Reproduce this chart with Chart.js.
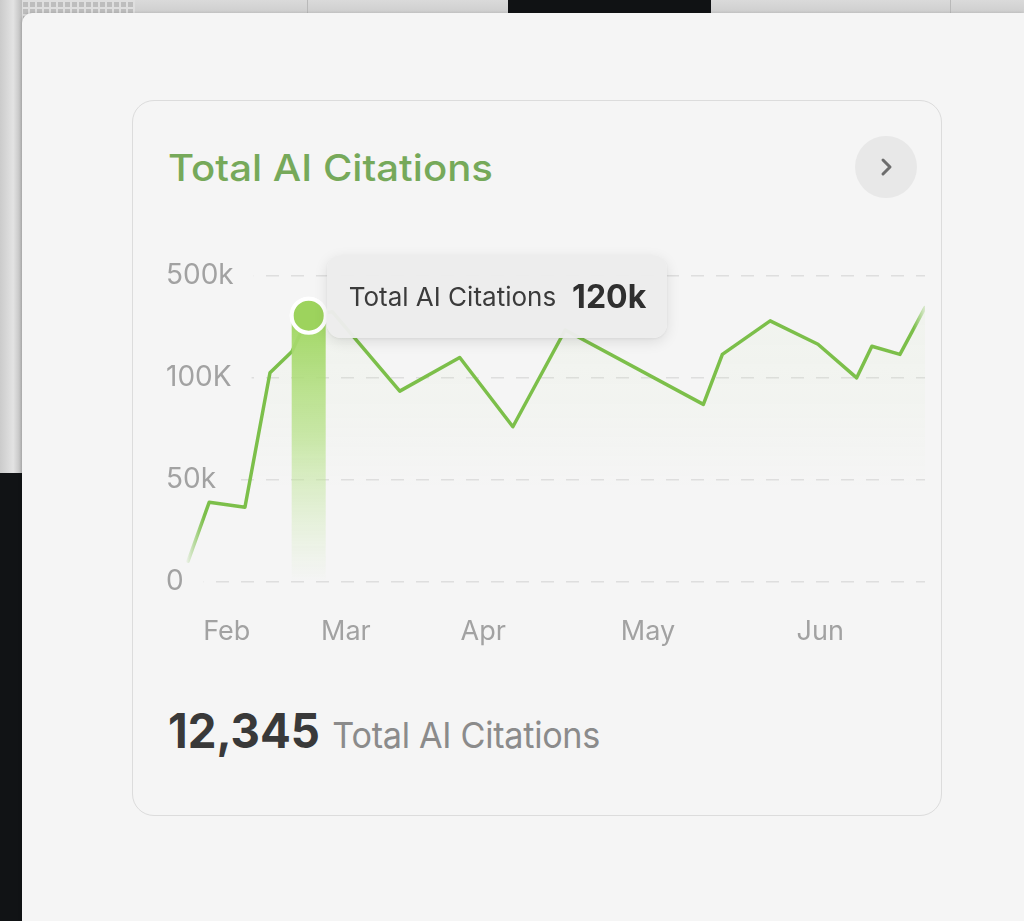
<!DOCTYPE html>
<html>
<head>
<meta charset="utf-8">
<script src="https://cdn.jsdelivr.net/npm/chart.js@4.4.1/dist/chart.umd.min.js"></script>
<style>
  html, body { margin: 0; padding: 0; }
  body {
    width: 1024px; height: 921px; overflow: hidden; position: relative;
    background: #111315; font-family: Inter, "Noto Sans", sans-serif;
  }
  .top-strip { position: absolute; left: 0; top: 0; width: 1024px; height: 14px; background: linear-gradient(#dadada, #cdcdcd); }
  .top-dark { position: absolute; left: 508px; top: 0; width: 203px; height: 13px; background: #101214; }
  .top-line { position: absolute; top: 0; width: 1px; height: 13px; background: #b9b9b9; }
  .left-strip { position: absolute; left: 0; top: 0; width: 22px; height: 473px; background: linear-gradient(90deg, #cbcbcb, #e3e3e3 60%, #bcbcbc); }
  .dots {
    position: absolute; left: 0; top: 0; width: 135px; height: 62px;
    background-color: #bdbdbd;
    background-image: linear-gradient(90deg, #dedede 2px, transparent 2px), linear-gradient(#dedede 2px, transparent 2px);
    background-size: 7px 7px;
  }
  .panel {
    position: absolute; left: 22px; top: 13px; right: 0; bottom: 0;
    background: #f5f5f5; border-top-left-radius: 10px;
    box-shadow: -1px 0 3px rgba(0,0,0,0.15);
  }
  .card {
    position: absolute; left: 132px; top: 100px; width: 808px; height: 714px;
    border: 1.5px solid #dcdcdc; border-radius: 22px; background: #f5f5f5;
  }
  .title {
    position: absolute; left: 168px; top: 149px; font-size: 37px; font-weight: 500; line-height: 1;
    color: #76a95a; white-space: nowrap; transform-origin: left top; transform: scaleX(1.085);
  }
  .btn {
    position: absolute; left: 855px; top: 136px; width: 62px; height: 62px;
    border-radius: 50%; background: #e8e8e8;
  }
  .btn svg { position: absolute; left: 0; top: 0; }
  .chart-wrap { position: absolute; left: 146px; top: 250px; width: 800px; height: 432px; }
  .tip {
    position: absolute; width: 340px; height: 83px; box-sizing: border-box;
    padding-left: 22px; display: flex; align-items: center; gap: 16px;
    background: rgba(236,236,236,0.97); border-radius: 14px;
    box-shadow: 0 4px 14px rgba(0,0,0,0.10), 0 1px 3px rgba(0,0,0,0.06);
    white-space: nowrap; opacity: 0; pointer-events: none;
  }
  .tip .lab { font-size: 26px; color: #3b3b3b; }
  .tip .val { font-size: 32px; font-weight: 700; color: #2f2f2f; }
  .total {
    position: absolute; left: 168px; top: 707px; line-height: 1; white-space: nowrap;
    transform-origin: left top; transform: scaleX(0.95);
  }
  .total .num { font-size: 48px; font-weight: 700; color: #393939; }
  .total .txt { font-size: 36px; color: #8b8b8b; margin-left: 13px; letter-spacing: -0.3px; }
</style>
</head>
<body>
<div class="top-strip"></div>
<div class="dots"></div>
<div class="top-dark"></div>
<div class="top-line" style="left:307px"></div>
<div class="top-line" style="left:950px"></div>
<div class="left-strip"></div>
<div class="panel"></div>
<div class="card"></div>
<div class="title">Total AI Citations</div>
<div class="btn">
  <svg width="62" height="62"><path d="M28 24 L35 31 L28 38" fill="none" stroke="#6d6d6d" stroke-width="3" stroke-linecap="round" stroke-linejoin="round"/></svg>
</div>
<div class="chart-wrap">
  <canvas id="chart"></canvas>
  <div class="tip" id="tip"><span class="lab"></span><span class="val"></span></div>
</div>
<div class="total"><span class="num">12,345</span><span class="txt">Total AI Citations</span></div>

<script>
// horizontal position of each reading (0 = left edge of plot, 100 = right edge)
const xPos = [2.9, 5.7, 10.4, 13.7, 16.6, 18.8, 21.9, 30.8, 38.7, 45.7, 52.6, 70.8, 73.3, 79.6, 85.9, 91.0, 93.0, 96.7, 100];
// value as read against the (uneven) y grid: 0 = "0", 1 = "50k", 2 = "100K", 3 = "500k"
const citations = [0.2, 0.78, 0.73, 2.05, 2.26, 2.61, 2.65, 1.87, 2.20, 1.52, 2.47, 1.74, 2.23, 2.56, 2.33, 2.00, 2.31, 2.23, 2.69];

const monthLabels = ['Feb', 'Mar', 'Apr', 'May', 'Jun'];
const monthPos = [8.0, 23.7, 41.8, 63.5, 86.2];
const yTickLabels = ['0', '50k', '100K', '500k'];

const seriesLabel = 'Total AI Citations';
const highlightIndex = 5;
const highlightValue = '120k';

const GREEN = '124, 191, 74';

function lineGradient(context) {
    const chart = context.chart;
    const area = chart.chartArea;
    if (!area) return 'rgb(' + GREEN + ')';
    const g = chart.ctx.createLinearGradient(area.left, 0, area.right, 0);
    g.addColorStop(0.025, 'rgba(' + GREEN + ', 0)');
    g.addColorStop(0.05, 'rgba(' + GREEN + ', 1)');
    g.addColorStop(0.985, 'rgba(' + GREEN + ', 1)');
    g.addColorStop(1, 'rgba(' + GREEN + ', 0.2)');
    return g;
}

// very faint haze under the line
function fillGradient(context) {
    const chart = context.chart;
    const area = chart.chartArea;
    if (!area) return 'transparent';
    const g = chart.ctx.createLinearGradient(0, area.top, 0, area.bottom);
    g.addColorStop(0, 'rgba(170, 220, 120, 0.06)');
    g.addColorStop(0.45, 'rgba(170, 220, 120, 0.03)');
    g.addColorStop(0.7, 'rgba(170, 220, 120, 0.0)');
    return g;
}

const isHi = (ctx) => ctx.dataIndex === highlightIndex;

// green column under the selected point, then the point again on top of it
const highlightBar = {
    id: 'highlightBar',
    afterDatasetDraw(chart, args) {
        const el = args.meta.data[highlightIndex];
        if (!el) return;
        const {ctx, chartArea} = chart;
        const w = 34;
        const g = ctx.createLinearGradient(0, el.y, 0, chartArea.bottom);
        g.addColorStop(0, 'rgba(160, 214, 98, 1)');
        g.addColorStop(0.45, 'rgba(185, 226, 140, 0.75)');
        g.addColorStop(1, 'rgba(205, 235, 175, 0)');
        ctx.save();
        ctx.fillStyle = g;
        ctx.fillRect(el.x - w / 2, el.y, w, chartArea.bottom - el.y);
        ctx.restore();
        el.draw(ctx, chartArea);
    }
};

function externalTooltip({chart, tooltip}) {
    const tip = document.getElementById('tip');
    if (tooltip.opacity === 0) {
        tip.style.opacity = 0;
        return;
    }
    tip.querySelector('.lab').textContent = seriesLabel;
    tip.querySelector('.val').textContent = highlightValue;
    tip.style.left = (chart.canvas.offsetLeft + tooltip.caretX + 18) + 'px';
    tip.style.top = (chart.canvas.offsetTop + tooltip.caretY - 61) + 'px';
    tip.style.opacity = 1;
}

const ctx = document.getElementById('chart').getContext('2d');
const chart = new Chart(ctx, {
    type: 'line',
    data: {
        datasets: [
            {
                label: seriesLabel,
                data: xPos.map((x, i) => ({x: x, y: citations[i]})),
                borderColor: lineGradient,
                backgroundColor: fillGradient,
                fill: 'origin',
                borderWidth: 3.5,
                borderJoinStyle: 'round',
                borderCapStyle: 'round',
                tension: 0,
                pointRadius: (c) => isHi(c) ? 17 : 0,
                pointHoverRadius: (c) => isHi(c) ? 17 : 0,
                pointBackgroundColor: '#9dd35d',
                pointHoverBackgroundColor: '#9dd35d',
                pointBorderColor: '#ffffff',
                pointHoverBorderColor: '#ffffff',
                pointBorderWidth: 4,
                pointHoverBorderWidth: 4
            }
        ]
    },
    options: {
        responsive: true,
        maintainAspectRatio: false,
        animation: false,
        events: [],
        layout: {
            padding: {left: 20, right: 21, top: 26, bottom: 0}
        },
        plugins: {
            legend: {display: false},
            tooltip: {
                enabled: false,
                external: externalTooltip
            }
        },
        scales: {
            x: {
                type: 'linear',
                min: 0,
                max: 100,
                afterBuildTicks: (scale) => {
                    scale.ticks = monthPos.map((v) => ({value: v}));
                },
                grid: {display: false, drawTicks: false},
                border: {display: false},
                ticks: {
                    autoSkip: false,
                    maxRotation: 0,
                    padding: 34,
                    color: '#a2a2a2',
                    font: {family: 'Inter', size: 27},
                    callback: (v, i) => monthLabels[i]
                }
            },
            y: {
                min: 0,
                max: 3,
                afterBuildTicks: (scale) => {
                    scale.ticks = yTickLabels.map((t, i) => ({value: i}));
                },
                grid: {color: '#dedede', lineWidth: 1.5, drawTicks: false},
                border: {display: false, dash: [13, 12]},
                ticks: {
                    mirror: true,
                    padding: 0,
                    color: '#a2a2a2',
                    font: {family: 'Inter', size: 28},
                    showLabelBackdrop: true,
                    backdropColor: '#f5f5f5',
                    backdropPadding: {left: 2, right: 20, top: 6, bottom: 6},
                    callback: (v) => yTickLabels[v]
                }
            }
        }
    },
    plugins: [highlightBar]
});

const active = [{datasetIndex: 0, index: highlightIndex}];
chart.setActiveElements(active);
chart.tooltip.setActiveElements(active, {x: 0, y: 0});
chart.update('none');
</script>
</body>
</html>
